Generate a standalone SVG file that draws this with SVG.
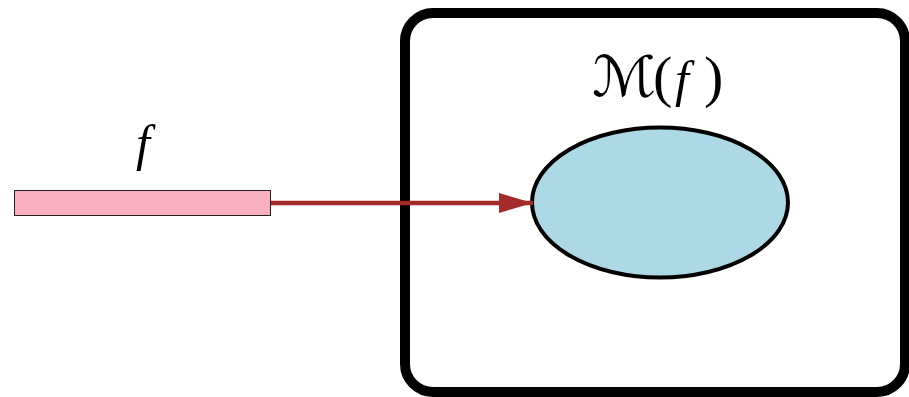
<svg xmlns="http://www.w3.org/2000/svg" width="909" height="397" viewBox="0 0 909 397">
<style>
.lbl{font-family:"Liberation Serif","DejaVu Serif",serif;font-style:italic;font-size:50px;fill:#000}
.up{font-style:normal;font-size:58px}
</style>
<defs>
<marker id="ah" markerUnits="userSpaceOnUse" markerWidth="36" markerHeight="22" refX="34" refY="11" orient="auto">
<path d="M0,1 L34,11 L0,21 Z" fill="#a52a2a"/>
</marker>
</defs>
<rect width="909" height="397" fill="#fff"/>
<g id="container">
<rect x="405" y="13" width="500" height="379" rx="28" ry="28" fill="#fff" stroke="#000" stroke-width="10"/>
<text class="lbl" y="96"><tspan x="592" font-family="DejaVu Sans, serif" font-style="normal" font-size="56" textLength="64" lengthAdjust="spacingAndGlyphs">ℳ</tspan><tspan x="653" class="up">(</tspan><tspan x="675">f</tspan><tspan x="704" class="up">)</tspan></text>
</g>
<g id="input">
<rect x="14.5" y="190.5" width="256" height="25" fill="#f9afc0" stroke="#222" stroke-width="1"/>
<text class="lbl" x="143" y="160" text-anchor="middle">f</text>
</g>
<g id="model">
<ellipse cx="660" cy="202.5" rx="128" ry="75" fill="#add8e6" stroke="#000" stroke-width="4"/>
</g>
<g id="connectors">
<line x1="271" y1="203" x2="533" y2="203" stroke="#a52a2a" stroke-width="4.5" marker-end="url(#ah)"/>
</g>
</svg>
